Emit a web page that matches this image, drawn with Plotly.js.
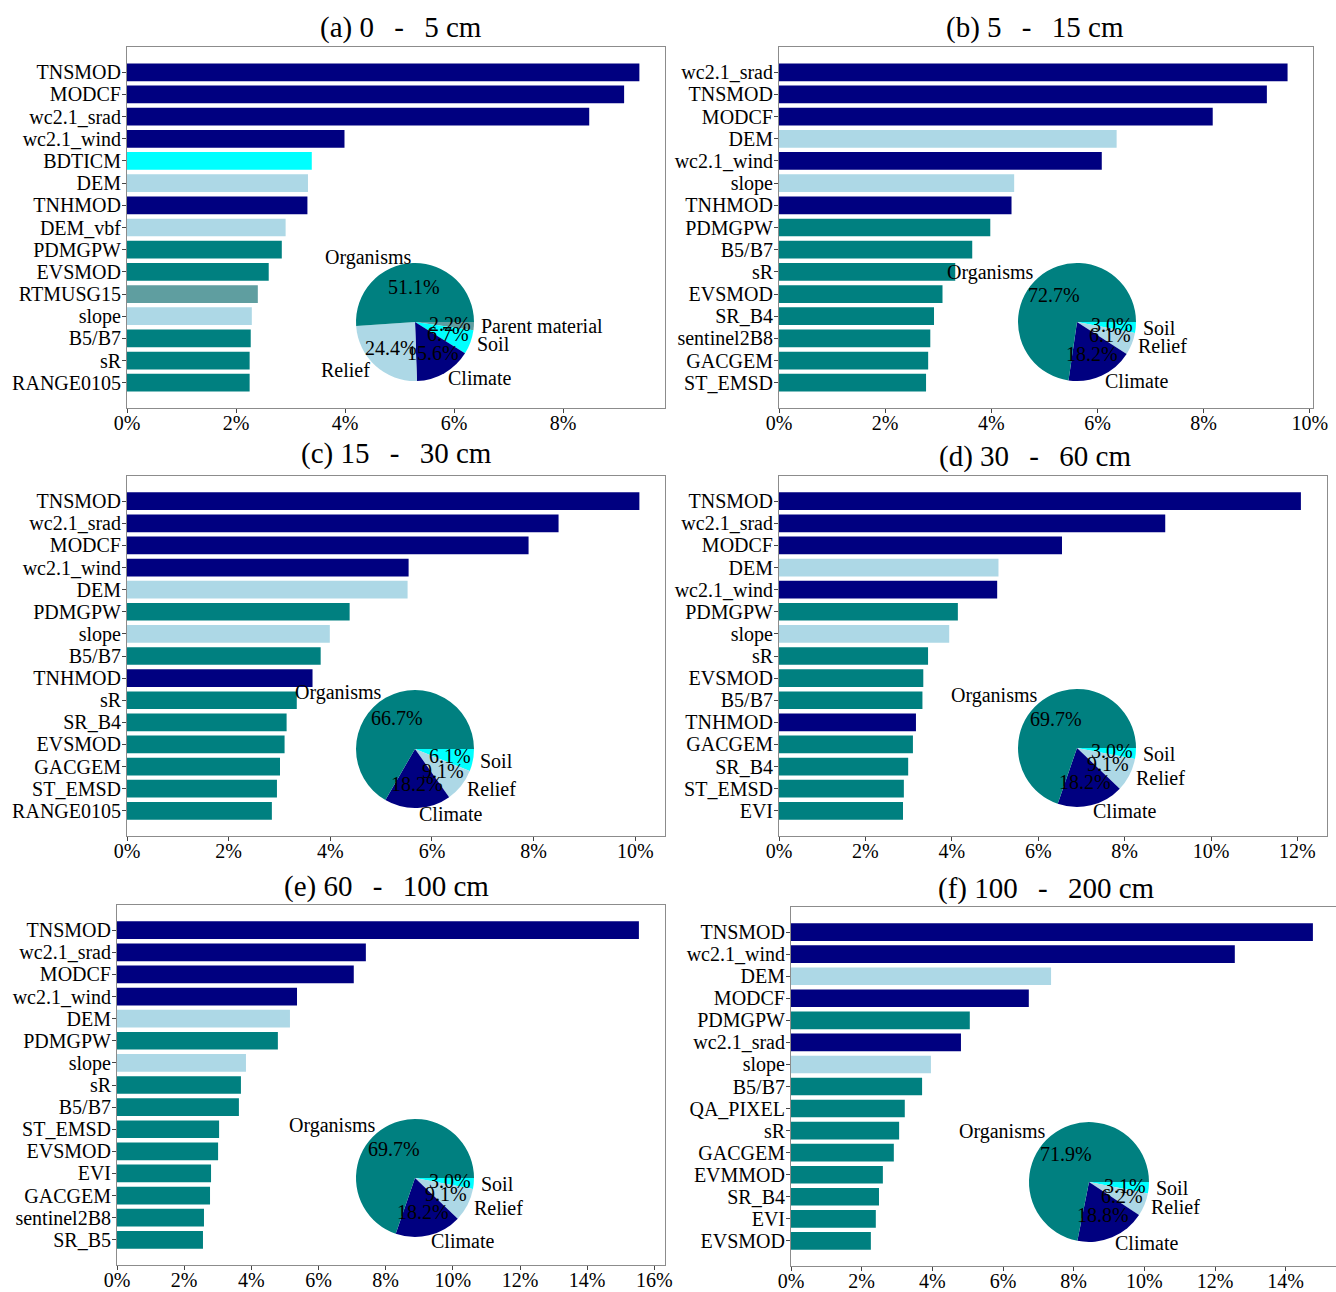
<!DOCTYPE html>
<html>
<head>
<meta charset="utf-8">
<script src="https://cdn.plot.ly/plotly-3.0.1.min.js"></script>
<style>
  html, body { margin: 0; padding: 0; overflow: hidden; background: #fff; }
</style>
</head>
<body>
<div id="chart"></div>
<script>
// ---- Variable importance (%) per soil depth, with factor group of each covariate ----
// Groups: C = Climate, R = Relief, O = Organisms, S = Soil, P = Parent material

const SEP = '\u00a0\u00a0\u2009-\u2009\u00a0\u00a0';
const titles = ['(a) 0' + SEP + '5 cm', '(b) 5' + SEP + '15 cm',
                '(c) 15' + SEP + '30 cm', '(d) 30' + SEP + '60 cm',
                '(e) 60' + SEP + '100 cm', '(f) 100' + SEP + '200 cm'];

const namesA  = ['TNSMOD', 'MODCF', 'wc2.1_srad', 'wc2.1_wind', 'BDTICM', 'DEM', 'TNHMOD', 'DEM_vbf',
                 'PDMGPW', 'EVSMOD', 'RTMUSG15', 'slope', 'B5/B7', 'sR', 'RANGE0105'];
const valuesA = [9.40, 9.12, 8.48, 3.99, 3.39, 3.32, 3.31, 2.91, 2.84, 2.60, 2.40, 2.29, 2.27, 2.25, 2.25];
const groupsA = ['C', 'C', 'C', 'C', 'S', 'R', 'C', 'R', 'O', 'O', 'P', 'R', 'O', 'O', 'O'];

const namesB  = ['wc2.1_srad', 'TNSMOD', 'MODCF', 'DEM', 'wc2.1_wind', 'slope', 'TNHMOD', 'PDMGPW',
                 'B5/B7', 'sR', 'EVSMOD', 'SR_B4', 'sentinel2B8', 'GACGEM', 'ST_EMSD'];
const valuesB = [9.58, 9.19, 8.17, 6.36, 6.08, 4.43, 4.38, 3.98, 3.64, 3.32, 3.08, 2.92, 2.85, 2.81, 2.77];
const groupsB = ['C', 'C', 'C', 'R', 'C', 'R', 'C', 'O', 'O', 'O', 'O', 'O', 'O', 'O', 'O'];

const namesC  = ['TNSMOD', 'wc2.1_srad', 'MODCF', 'wc2.1_wind', 'DEM', 'PDMGPW', 'slope', 'B5/B7',
                 'TNHMOD', 'sR', 'SR_B4', 'EVSMOD', 'GACGEM', 'ST_EMSD', 'RANGE0105'];
const valuesC = [10.08, 8.49, 7.90, 5.54, 5.52, 4.38, 3.99, 3.81, 3.65, 3.34, 3.14, 3.10, 3.01, 2.95, 2.85];
const groupsC = ['C', 'C', 'C', 'C', 'R', 'O', 'R', 'O', 'C', 'O', 'O', 'O', 'O', 'O', 'O'];

const namesD  = ['TNSMOD', 'wc2.1_srad', 'MODCF', 'DEM', 'wc2.1_wind', 'PDMGPW', 'slope', 'sR',
                 'EVSMOD', 'B5/B7', 'TNHMOD', 'GACGEM', 'SR_B4', 'ST_EMSD', 'EVI'];
const valuesD = [12.08, 8.94, 6.55, 5.08, 5.05, 4.14, 3.94, 3.45, 3.34, 3.32, 3.17, 3.10, 2.99, 2.89, 2.87];
const groupsD = ['C', 'C', 'C', 'R', 'C', 'O', 'R', 'O', 'O', 'O', 'C', 'O', 'O', 'O', 'O'];

const namesE  = ['TNSMOD', 'wc2.1_srad', 'MODCF', 'wc2.1_wind', 'DEM', 'PDMGPW', 'slope', 'sR',
                 'B5/B7', 'ST_EMSD', 'EVSMOD', 'EVI', 'GACGEM', 'sentinel2B8', 'SR_B5'];
const valuesE = [15.54, 7.41, 7.05, 5.36, 5.15, 4.79, 3.84, 3.69, 3.63, 3.04, 3.01, 2.80, 2.77, 2.59, 2.56];
const groupsE = ['C', 'C', 'C', 'C', 'R', 'O', 'R', 'O', 'O', 'O', 'O', 'O', 'O', 'O', 'O'];

const namesF  = ['TNSMOD', 'wc2.1_wind', 'DEM', 'MODCF', 'PDMGPW', 'wc2.1_srad', 'slope', 'B5/B7',
                 'QA_PIXEL', 'sR', 'GACGEM', 'EVMMOD', 'SR_B4', 'EVI', 'EVSMOD'];
const valuesF = [14.77, 12.56, 7.36, 6.73, 5.06, 4.81, 3.96, 3.71, 3.22, 3.06, 2.91, 2.60, 2.49, 2.40, 2.26];
const groupsF = ['C', 'C', 'R', 'C', 'O', 'C', 'R', 'O', 'O', 'O', 'O', 'O', 'O', 'O', 'O'];

// ---- Share of each soil-forming factor (%) ----
const pieLabelsA = ['Organisms', 'Relief', 'Climate', 'Soil', 'Parent material'];
const pieValuesA = [51.1, 24.4, 15.6, 6.7, 2.2];
const pieLabelsB = ['Organisms', 'Climate', 'Relief', 'Soil'];
const pieValuesB = [72.7, 18.2, 6.1, 3.0];
const pieLabelsC = ['Organisms', 'Climate', 'Relief', 'Soil'];
const pieValuesC = [66.7, 18.2, 9.1, 6.1];
const pieLabelsD = ['Organisms', 'Climate', 'Relief', 'Soil'];
const pieValuesD = [69.7, 18.2, 9.1, 3.0];
const pieLabelsE = ['Organisms', 'Climate', 'Relief', 'Soil'];
const pieValuesE = [69.7, 18.2, 9.1, 3.0];
const pieLabelsF = ['Organisms', 'Climate', 'Relief', 'Soil'];
const pieValuesF = [71.9, 18.8, 6.2, 3.1];

// ---- Styling ----
const groupColor = { C: '#000080', R: '#ADD8E6', O: '#008080', S: '#00FFFF', P: '#5F9EA0' };
const factorColor = { 'Climate': '#000080', 'Relief': '#ADD8E6', 'Organisms': '#008080',
                      'Soil': '#00FFFF', 'Parent material': '#5F9EA0' };
const FONT = 'Liberation Serif, Times New Roman, serif';
const W = 1345, H = 1292;

const panels = [
  { names: namesA, values: valuesA, groups: groupsA, pl: pieLabelsA, pv: pieValuesA,
    box: [127, 665, 47, 408], title: [401, 27], pie: [415, 322, 59] },
  { names: namesB, values: valuesB, groups: groupsB, pl: pieLabelsB, pv: pieValuesB,
    box: [779, 1313, 47, 408], title: [1035, 27], pie: [1077, 322, 59] },
  { names: namesC, values: valuesC, groups: groupsC, pl: pieLabelsC, pv: pieValuesC,
    box: [127, 665, 476, 836], title: [396, 453], pie: [415, 749, 59] },
  { names: namesD, values: valuesD, groups: groupsD, pl: pieLabelsD, pv: pieValuesD,
    box: [779, 1327, 476, 836], title: [1035, 456], pie: [1077, 748, 59] },
  { names: namesE, values: valuesE, groups: groupsE, pl: pieLabelsE, pv: pieValuesE,
    box: [117, 665, 905, 1265], title: [386, 886], pie: [415, 1178, 59] },
  { names: namesF, values: valuesF, groups: groupsF, pl: pieLabelsF, pv: pieValuesF,
    box: [791, 1339, 907, 1266], title: [1046, 888], pie: [1089, 1182, 60] }
];

const px = x => x / W;
const py = y => 1 - y / H;

const data = [];
const layout = {
  width: W, height: H,
  margin: { l: 0, r: 0, t: 0, b: 0 },
  paper_bgcolor: '#fff', plot_bgcolor: '#fff',
  showlegend: false,
  font: { family: FONT, size: 20, color: '#000' },
  annotations: []
};

panels.forEach((p, i) => {
  const k = i + 1;
  const xa = 'x' + k, ya = 'y' + k;
  const n = p.names.length;

  // horizontal bars
  data.push({
    type: 'bar', orientation: 'h',
    x: p.values, y: p.names,
    xaxis: xa, yaxis: ya,
    marker: { color: p.groups.map(g => groupColor[g]), line: { width: 0 } },
    hoverinfo: 'x+y'
  });

  const pad = 0.05 * (n - 1 + 0.8);
  const axisLine = { showline: true, mirror: true, linecolor: '#8c8c8c', linewidth: 1 };
  layout['xaxis' + k] = Object.assign({
    anchor: ya, domain: [px(p.box[0]), px(p.box[1])],
    range: [0, Math.max(...p.values) * 1.05],
    tick0: 0, dtick: 2, ticksuffix: '%',
    ticks: 'outside', ticklen: 4, tickcolor: '#444',
    ticklabelstandoff: -7,
    showgrid: false, zeroline: false,
    tickfont: { family: FONT, size: 20, color: '#000' }
  }, axisLine);
  layout['yaxis' + k] = Object.assign({
    anchor: xa, domain: [py(p.box[3]), py(p.box[2])],
    type: 'category',
    range: [n - 1 + 0.4 + pad, -0.4 - pad],
    tickmode: 'array', tickvals: p.names, ticktext: p.names,
    ticks: 'outside', ticklen: 4, tickcolor: '#444',
    ticklabelstandoff: -3,
    showgrid: false, zeroline: false,
    tickfont: { family: FONT, size: 20, color: '#000' }
  }, axisLine);

  // panel title
  layout.annotations.push({
    xref: 'paper', yref: 'paper', x: px(p.title[0]), y: py(p.title[1]),
    xanchor: 'center', yanchor: 'middle', showarrow: false,
    text: titles[i], font: { family: FONT, size: 29, color: '#000' }
  });

  // inset pie: slices run counter-clockwise from 3 o'clock in list order,
  // drawn here clockwise from 3 o'clock with the list reversed
  const [cx, cy, r] = p.pie;
  const revL = p.pl.slice().reverse();
  const revV = p.pv.slice().reverse();
  data.push({
    type: 'pie', labels: revL, values: revV, sort: false,
    direction: 'clockwise', rotation: 90,
    marker: { colors: revL.map(l => factorColor[l]), line: { width: 0 } },
    textinfo: 'none', hoverinfo: 'label+percent',
    domain: { x: [px(cx - r), px(cx + r)], y: [py(cy + r), py(cy - r)] }
  });

  // slice names (outside) and percentages (inside)
  const total = p.pv.reduce((a, b) => a + b, 0);
  let cum = 0;
  p.pv.forEach((v, j) => {
    const mid = (cum + v / 2) / total * 2 * Math.PI;
    cum += v;
    const c = Math.cos(mid), s = Math.sin(mid);
    layout.annotations.push({
      xref: 'paper', yref: 'paper',
      x: px(cx + 1.1 * r * c), y: py(cy - 1.1 * r * s),
      xanchor: c >= 0 ? 'left' : 'right', yanchor: 'middle',
      showarrow: false, borderpad: 0,
      text: p.pl[j], font: { family: FONT, size: 20, color: '#000' }
    });
    layout.annotations.push({
      xref: 'paper', yref: 'paper',
      x: px(cx + 0.6 * r * c), y: py(cy - 0.6 * r * s),
      xanchor: 'center', yanchor: 'middle',
      showarrow: false, borderpad: 0,
      text: v.toFixed(1) + '%', font: { family: FONT, size: 20, color: '#000' }
    });
  });
});

Plotly.newPlot('chart', data, layout, { displayModeBar: false, staticPlot: true });
</script>
</body>
</html>
